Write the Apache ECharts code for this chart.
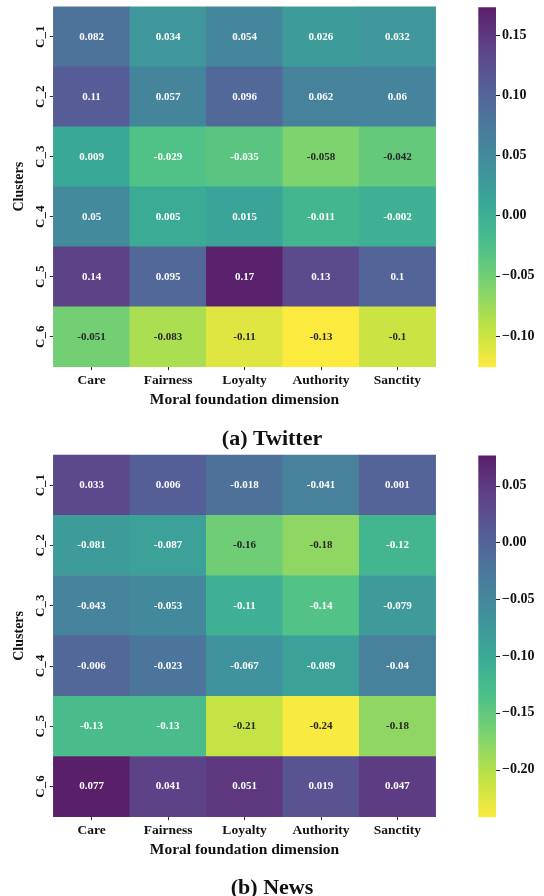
<!DOCTYPE html>
<html>
<head>
<meta charset="utf-8">
<script src="https://cdn.jsdelivr.net/npm/echarts@6/dist/echarts.min.js"></script>
<style>html,body{margin:0;padding:0;background:#fff;}#c{width:544px;height:896px;}</style>
</head>
<body>
<div id="c"></div>
<script>
const dimensions = ['Care', 'Fairness', 'Loyalty', 'Authority', 'Sanctity'];
const clusters = ['C_1', 'C_2', 'C_3', 'C_4', 'C_5', 'C_6'];
const twitterValues = [
  [0.082, 0.034, 0.054, 0.026, 0.032],
  [0.11, 0.057, 0.096, 0.062, 0.06],
  [0.009, -0.029, -0.035, -0.058, -0.042],
  [0.05, 0.005, 0.015, -0.011, -0.002],
  [0.14, 0.095, 0.17, 0.13, 0.1],
  [-0.051, -0.083, -0.11, -0.13, -0.1]
];
const newsValues = [
  [0.033, 0.006, -0.018, -0.041, 0.001],
  [-0.081, -0.087, -0.16, -0.18, -0.12],
  [-0.043, -0.053, -0.11, -0.14, -0.079],
  [-0.006, -0.023, -0.067, -0.089, -0.04],
  [-0.13, -0.13, -0.21, -0.24, -0.18],
  [0.077, 0.041, 0.051, 0.019, 0.047]
];
const twitterRange = [-0.126, 0.173];
const newsRange = [-0.242, 0.0765];
const twitterTicks = [-0.10, -0.05, 0.00, 0.05, 0.10, 0.15];
const newsTicks = [-0.20, -0.15, -0.10, -0.05, 0.00, 0.05];
const panelTitles = ['(a) Twitter', '(b) News'];
const xAxisTitle = 'Moral foundation dimension';
const yAxisTitle = 'Clusters';

const FONT = '"Liberation Serif", "DejaVu Serif", serif';
const viridis = ['#440154', '#482878', '#3e4989', '#31688e', '#26828e', '#1f9e89', '#35b779', '#6ece58', '#b5de2b', '#fde725'];
function lighten(hex, a) {
  const r = parseInt(hex.slice(1, 3), 16), g = parseInt(hex.slice(3, 5), 16), b = parseInt(hex.slice(5, 7), 16);
  const m = c => Math.round(c * a + 255 * (1 - a));
  return 'rgb(' + m(r) + ',' + m(g) + ',' + m(b) + ')';
}
const palette = viridis.slice().reverse().map(c => lighten(c, 0.88));
const gradientStops = palette.map((c, k) => ({ offset: k / (palette.length - 1), color: c }));

function cells(values, range) {
  const out = [];
  values.forEach((row, r) => row.forEach((v, c) => {
    const t = (v - range[0]) / (range[1] - range[0]);
    out.push({ value: [c, r, v], label: { color: t < 0.295 ? '#262626' : '#ffffff' } });
  }));
  return out;
}

const panels = [
  { top: 6.7, height: 360, values: twitterValues, range: twitterRange, ticks: twitterTicks, title: panelTitles[0], titleTop: 423 },
  { top: 455, height: 361.7, values: newsValues, range: newsRange, ticks: newsTicks, title: panelTitles[1], titleTop: 872 }
];

const option = {
  animation: false,
  backgroundColor: '#ffffff',
  textStyle: { fontFamily: FONT },
  title: [],
  grid: [],
  xAxis: [],
  yAxis: [],
  visualMap: [],
  series: []
};

panels.forEach((p, i) => {
  const hg = i * 2, cg = i * 2 + 1;
  option.title.push({
    text: p.title, left: 267, top: p.titleTop, textAlign: 'center',
    textStyle: { fontFamily: FONT, fontWeight: 'bold', fontSize: 22, color: '#111' }
  });
  option.grid.push({ left: 53.3, width: 382.4, top: p.top, height: p.height });
  option.grid.push({ left: 478.3, width: 17.7, top: p.top + 0.5, height: p.height });
  option.xAxis.push({
    type: 'category', data: dimensions, gridIndex: hg, position: 'bottom',
    axisLine: { show: false },
    axisTick: { show: true, length: 3.5, alignWithLabel: true, lineStyle: { color: '#333' } },
    axisLabel: { fontFamily: FONT, fontWeight: 'bold', fontSize: 13.5, color: '#111', margin: 7 },
    name: xAxisTitle, nameLocation: 'middle', nameGap: 25,
    nameTextStyle: { fontFamily: FONT, fontWeight: 'bold', fontSize: 15.5, color: '#111' },
    splitLine: { show: false }
  });
  option.yAxis.push({
    type: 'category', data: clusters, gridIndex: hg, inverse: true,
    axisLine: { show: false },
    axisTick: { show: true, length: 3.5, alignWithLabel: true, lineStyle: { color: '#333' } },
    axisLabel: { fontFamily: FONT, fontWeight: 'bold', fontSize: 13, color: '#111', rotate: 90, margin: 6 },
    name: yAxisTitle, nameLocation: 'middle', nameGap: 25, nameRotate: 90,
    nameTextStyle: { fontFamily: FONT, fontWeight: 'bold', fontSize: 14, color: '#111' },
    splitLine: { show: false }
  });
  option.xAxis.push({ type: 'value', gridIndex: cg, show: false, min: 0, max: 1 });
  option.yAxis.push({
    type: 'value', gridIndex: cg, position: 'right', min: p.range[0], max: p.range[1],
    axisLine: { show: false },
    splitLine: { show: false },
    axisTick: { show: false },
    axisLabel: {
      show: true, customValues: p.ticks, margin: 6,
      fontFamily: FONT, fontWeight: 'bold', fontSize: 14, color: '#111',
      formatter: v => (v < 0 ? '\u2212' : '') + Math.abs(v).toFixed(2)
    }
  });
  option.visualMap.push({
    type: 'continuous', seriesIndex: option.series.length, min: p.range[0], max: p.range[1],
    show: false, inRange: { color: palette }
  });
  option.series.push({
    type: 'heatmap', xAxisIndex: hg, yAxisIndex: hg,
    data: cells(p.values, p.range),
    label: {
      show: true, fontFamily: FONT, fontWeight: 'bold', fontSize: 11,
      formatter: prm => String(prm.value[2])
    },
    itemStyle: { borderWidth: 0 },
    emphasis: { disabled: true }
  });
  option.series.push({
    type: 'custom', xAxisIndex: cg, yAxisIndex: cg, silent: true,
    data: [[0, p.range[0], 1, p.range[1]]],
    renderItem: (params, api) => {
      const a = api.coord([api.value(0), api.value(1)]);
      const b = api.coord([api.value(2), api.value(3)]);
      return {
        type: 'rect',
        shape: { x: a[0], y: b[1], width: b[0] - a[0], height: a[1] - b[1] },
        style: { fill: new echarts.graphic.LinearGradient(0, 1, 0, 0, gradientStops) }
      };
    }
  });
  option.series.push({
    type: 'custom', xAxisIndex: cg, yAxisIndex: cg, silent: true,
    data: p.ticks.map(v => [1, v]),
    renderItem: (params, api) => {
      const pt = api.coord([api.value(0), api.value(1)]);
      const y = Math.round(pt[1]) + 0.5;
      return {
        type: 'line',
        shape: { x1: pt[0], y1: y, x2: pt[0] + 4, y2: y },
        style: { stroke: '#222', lineWidth: 1 }
      };
    }
  });
});

const chart = echarts.init(document.getElementById('c'), null, { renderer: 'canvas' });
chart.setOption(option);
</script>
</body>
</html>
